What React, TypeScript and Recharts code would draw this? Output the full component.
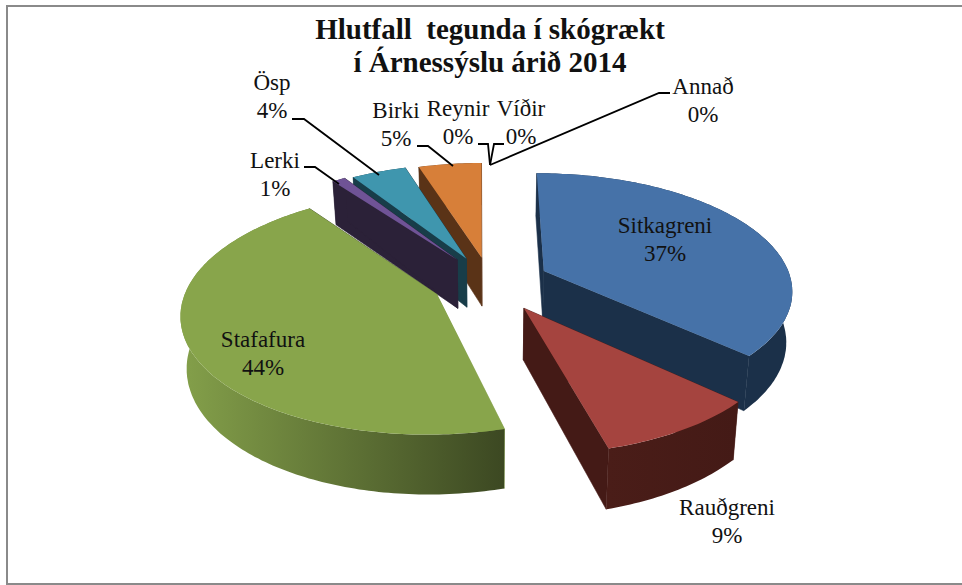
import React from 'react'
import { PieChart, Pie } from 'recharts'

const CATEGORIES = ['Sitkagreni', 'Rauðgreni', 'Stafafura', 'Lerki', 'Ösp', 'Birki', 'Reynir', 'Víðir', 'Annað']
const SHARES = [36.9, 8.9, 44.1, 1, 4.2, 4.8, 0.03, 0.03, 0.04]
const TITLE_LINES = ['Hlutfall  tegunda í skógrækt', 'í Árnessýslu árið 2014']

// slices go round counter-clockwise from the end of Sitkagreni so that they
// paint back to front (svg has no z-index, later slices cover earlier ones)
const DRAW_ORDER = [0, 8, 7, 6, 5, 4, 3, 2, 1]
const tableData = DRAW_ORDER.map((i) => ({ name: CATEGORIES[i], value: SHARES[i] }))
const firstSliceSweep = (SHARES[0] / SHARES.reduce((a, b) => a + b, 0)) * 360

const CX = 490
const CY = 282
const RADIUS = 248
const TILT = 0.466
const PERSPECTIVE = 0.15
const DEPTH = 50
const BOTTOM_SHRINK = 0.98
const LINE_GAP = 28

const EXPLODE: Record<string, number> = {
  Sitkagreni: 0.24,
  'Rauðgreni': 0.256,
  Stafafura: 0.235,
  Lerki: 0.24,
  'Ösp': 0.23,
  Birki: 0.22,
}

const TOP_COLORS: Record<string, string> = {
  Sitkagreni: '#4672a8',
  'Rauðgreni': '#a5443f',
  Stafafura: '#88a54b',
  Lerki: '#6f5396',
  'Ösp': '#3f96ae',
  Birki: '#d77f39',
}
const WALL_COLORS: Record<string, [string, string]> = {
  Sitkagreni: ['#1b3049', '#1b3049'],
  'Rauðgreni': ['#4a1d18', '#441a16'],
  Stafafura: ['#84a04a', '#3c4822'],
  Lerki: ['#2b2138', '#2b2138'],
  'Ösp': ['#183d49', '#183d49'],
  Birki: ['#5a3317', '#5a3317'],
}

const LABELS: Record<string, { x: number; y: number; line?: number[][] }> = {
  Sitkagreni: { x: 665, y: 233 },
  'Rauðgreni': { x: 727, y: 515 },
  Stafafura: { x: 263, y: 347 },
  Lerki: { x: 275, y: 168, line: [[304, 167], [315, 167], [339, 184]] },
  'Ösp': { x: 272, y: 90, line: [[292, 119], [304, 119], [379, 175]] },
  Birki: { x: 396, y: 118, line: [[417, 146], [428, 146], [453, 166]] },
  Reynir: { x: 458, y: 116, line: [[478, 144], [488, 144], [490, 165]] },
  'Víðir': { x: 521, y: 116, line: [[504, 144], [494, 144], [490, 165]] },
  'Annað': { x: 703, y: 94, line: [[670, 93], [659, 93], [490, 165]] },
}

const rad = (deg: number) => (deg * Math.PI) / 180

function project(cx: number, cy: number, r: number, px: number, py: number, bottom = false) {
  const s = 1 / (1 + PERSPECTIVE * py)
  let x = cx + r * px * s
  let y = cy - r * TILT * py * s
  if (bottom) {
    x = cx + (x - cx) * BOTTOM_SHRINK
    y += DEPTH * s
  }
  return [x, y]
}

const toPath = (pts: number[][]) =>
  'M' + pts.map((p) => p[0].toFixed(1) + ' ' + p[1].toFixed(1)).join('L') + 'Z'

function renderSlice(props: any) {
  const { cx, cy, outerRadius, startAngle, endAngle, name } = props
  if (!TOP_COLORS[name]) return <g />

  const a = Math.min(90 - startAngle, 90 - endAngle)
  const b = Math.max(90 - startAngle, 90 - endAngle)
  const mid = (a + b) / 2
  const e = EXPLODE[name]
  const ox = e * Math.sin(rad(mid))
  const oy = e * Math.cos(rad(mid))

  const rim = (bottom: boolean) => {
    const pts: number[][] = []
    for (let t = a; t < b; t += 1) {
      pts.push(project(cx, cy, outerRadius, ox + Math.sin(rad(t)), oy + Math.cos(rad(t)), bottom))
    }
    pts.push(project(cx, cy, outerRadius, ox + Math.sin(rad(b)), oy + Math.cos(rad(b)), bottom))
    return pts
  }

  const top = rim(false)
  const low = rim(true)
  const apexTop = project(cx, cy, outerRadius, ox, oy)
  const apexLow = project(cx, cy, outerRadius, ox, oy, true)
  const gradId = 'wall-' + CATEGORIES.indexOf(name)
  const [wallFrom, wallTo] = WALL_COLORS[name]

  return (
    <g>
      <defs>
        <linearGradient id={gradId} x1="0" x2="1" y1="0" y2="0">
          <stop offset="0%" stopColor={wallFrom} />
          <stop offset="100%" stopColor={wallTo} />
        </linearGradient>
      </defs>
      {/* thin stroke on the walls hides the hairline where the paths meet */}
      <path d={toPath([apexTop, top[0], low[0], apexLow])} fill={wallFrom} stroke={wallFrom} strokeWidth={0.6} />
      <path d={toPath([apexTop, top[top.length - 1], low[low.length - 1], apexLow])} fill={wallTo} stroke={wallTo} strokeWidth={0.6} />
      <path d={toPath([...top, ...[...low].reverse()])} fill={`url(#${gradId})`} />
      <path d={toPath([apexTop, ...top])} fill={TOP_COLORS[name]} />
    </g>
  )
}

function renderLabel(props: any) {
  const { name, value } = props
  const spot = LABELS[name]
  return (
    <g>
      {spot.line && (
        <polyline
          points={spot.line.map((p) => p.join(',')).join(' ')}
          fill="none"
          stroke="#000"
          strokeWidth={1.8}
        />
      )}
      <text x={spot.x} y={spot.y} textAnchor="middle" fontFamily="Liberation Serif" fontSize={23} fill="#111">
        {name}
      </text>
      <text x={spot.x} y={spot.y + LINE_GAP} textAnchor="middle" fontFamily="Liberation Serif" fontSize={23} fill="#111">
        {Math.round(value)}%
      </text>
    </g>
  )
}

export default function App() {
  return (
    <div style={{ position: 'fixed', left: 0, top: 0, width: 962, height: 585, background: '#fff', overflow: 'hidden' }}>
      <div
        style={{
          position: 'absolute',
          left: 6,
          top: 5,
          width: 962,
          height: 576,
          border: '2px solid #8a8a8a',
        }}
      />
      <div style={{ position: 'absolute', left: 0, top: 0 }}>
        <PieChart width={962} height={585} margin={{ top: 0, right: 0, bottom: 0, left: 0 }}>
          <Pie
            data={tableData}
            dataKey="value"
            nameKey="name"
            cx={CX}
            cy={CY}
            outerRadius={RADIUS}
            startAngle={90 - firstSliceSweep}
            endAngle={450 - firstSliceSweep}
            stroke="none"
            shape={renderSlice}
            label={renderLabel}
            labelLine={false}
            isAnimationActive={false}
          />
          <text x={CX} y={39} textAnchor="middle" fontFamily="Liberation Serif" fontWeight="bold" fontSize={29} fill="#111" style={{ whiteSpace: 'pre' }}>
            {TITLE_LINES[0]}
          </text>
          <text x={CX} y={72} textAnchor="middle" fontFamily="Liberation Serif" fontWeight="bold" fontSize={29} fill="#111">
            {TITLE_LINES[1]}
          </text>
        </PieChart>
      </div>
    </div>
  )
}
